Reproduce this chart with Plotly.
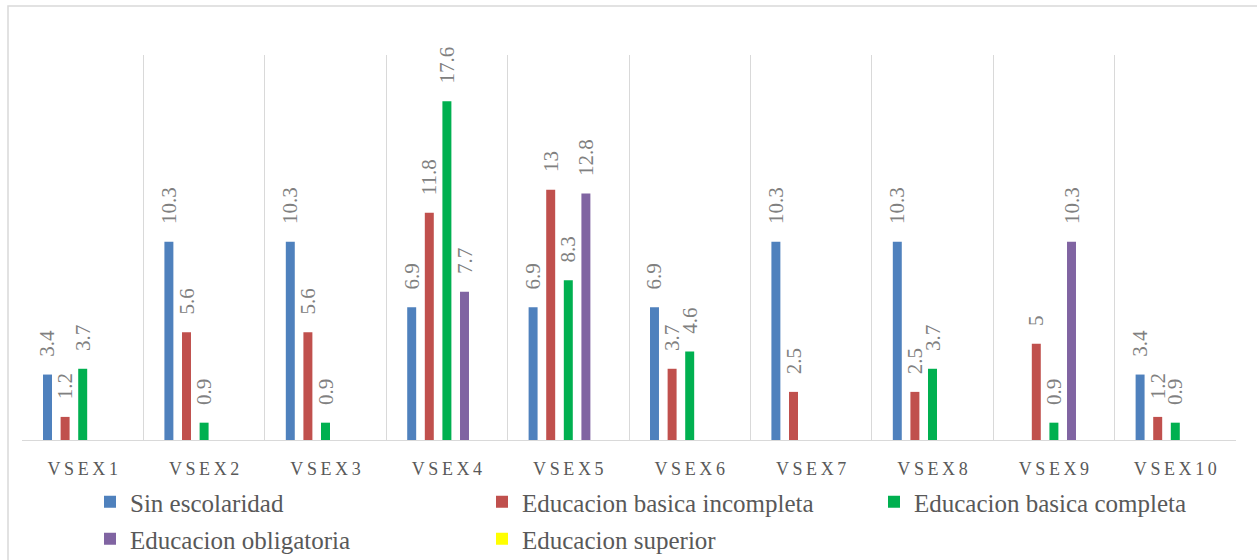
import plotly.graph_objects as go

# Categories and series values
categories = ["VSEX1", "VSEX2", "VSEX3", "VSEX4", "VSEX5",
              "VSEX6", "VSEX7", "VSEX8", "VSEX9", "VSEX10"]

sin_escolaridad = [3.4, 10.3, 10.3, 6.9, 6.9, 6.9, 10.3, 10.3, None, 3.4]
basica_incompleta = [1.2, 5.6, 5.6, 11.8, 13, 3.7, 2.5, 2.5, 5, 1.2]
basica_completa = [3.7, 0.9, 0.9, 17.6, 8.3, 4.6, None, 3.7, 0.9, 0.9]
obligatoria = [None, None, None, 7.7, 12.8, None, None, None, 10.3, None]
superior = [None] * 10

series_names = ["Sin escolaridad", "Educacion basica incompleta",
                "Educacion basica completa", "Educacion obligatoria",
                "Educacion superior"]
series_values = [sin_escolaridad, basica_incompleta, basica_completa,
                 obligatoria, superior]
series_colors = ["#4F81BD", "#C0504D", "#00B050", "#8064A2", "#FFFF00"]

SERIF = "'Liberation Serif', 'DejaVu Serif', serif"

# plot area in pixels (width 1257, height 560)
ML, MR, MT, MB = 22, 21, 55, 120
PW = 1257 - ML - MR
PH = 560 - MT - MB


def px_x(px):
    return (px - ML) / PW


def px_y(py):
    return (560 - MB - py) / PH


# Letter-spaced category labels
tick_text = ["\u2009".join(list(c)) for c in categories]

# legend slots: (symbol centre x, row centre y) in pixels
legend_slots = [(110, 502), (502, 502), (894, 502), (110, 539), (502, 539)]
legend_keys = ["legend", "legend2", "legend3", "legend4", "legend5"]

fig = go.Figure()
for name, vals, color, key in zip(series_names, series_values,
                                  series_colors, legend_keys):
    fig.add_trace(go.Bar(
        name=name,
        x=categories,
        y=vals,
        marker=dict(color=color, line=dict(width=0)),
        text=[("" if v is None else "\u2002\u2009" + f"{v:g}") for v in vals],
        textposition="outside",
        textangle=-90,
        constraintext="none",
        cliponaxis=False,
        textfont=dict(family=SERIF, size=21, color="#808080"),
        legend=key,
    ))

SYMBOL_OFFSET = 20  # symbol centre relative to legend box left edge
legend_layout = {}
for key, (sx, sy) in zip(legend_keys, legend_slots):
    legend_layout[key] = dict(
        x=px_x(sx - SYMBOL_OFFSET),
        y=px_y(sy),
        xanchor="left",
        yanchor="middle",
        orientation="v",
        font=dict(family=SERIF, size=25, color="#595959"),
        bgcolor="rgba(0,0,0,0)",
        itemclick=False,
        itemdoubleclick=False,
    )

fig.update_layout(
    width=1257,
    height=560,
    margin=dict(l=ML, r=MR, t=MT, b=MB, autoexpand=False),
    paper_bgcolor="white",
    plot_bgcolor="white",
    barmode="group",
    bargap=0.275,
    bargroupgap=0.49,
    showlegend=True,
    xaxis=dict(
        type="category",
        tickmode="array",
        tickvals=categories,
        ticktext=tick_text,
        tickson="boundaries",
        ticks="",
        showgrid=True,
        gridcolor="#D9D9D9",
        gridwidth=1.3,
        showline=True,
        linecolor="#D9D9D9",
        linewidth=1.3,
        tickfont=dict(family=SERIF, size=18, color="#595959"),
        ticklabelstandoff=12,
        range=[-0.5, 9.5],
    ),
    yaxis=dict(
        range=[0, 20],
        showgrid=False,
        showticklabels=False,
        zeroline=False,
        showline=False,
        ticks="",
    ),
    shapes=[
        # outer chart border
        dict(type="rect", xref="paper", yref="paper",
             x0=px_x(8), x1=px_x(1275), y0=px_y(600), y1=px_y(6),
             line=dict(color="#D9D9D9", width=1.5), fillcolor="rgba(0,0,0,0)",
             layer="below"),
    ],
    **legend_layout,
)

fig.write_html("out.html")
